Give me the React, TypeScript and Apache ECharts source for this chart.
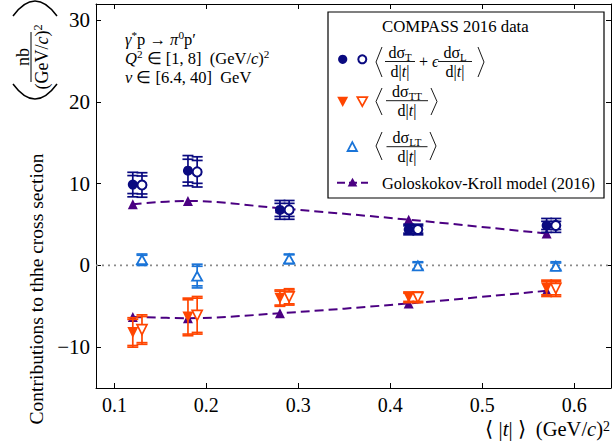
import React, { useEffect, useRef } from "react";
import * as echarts from "echarts";

const tBins = [0.12, 0.18, 0.28, 0.42, 0.57];
const tBinsShifted = [0.13, 0.19, 0.29, 0.43, 0.58];
const sigTL = [9.9, 11.6, 6.8, 4.4, 4.9];
const sigTLOpen = [9.85, 11.45, 6.8, 4.4, 4.9];
const sigTLStat = [1.1, 1.4, 0.8, 0.45, 0.5];
const sigTLTot = [1.5, 1.85, 1.15, 0.65, 0.85];
const sigTT = [-8.2, -6.3, -4.0, -3.9, -2.8];
const sigTTOpen = [-7.85, -6.1, -3.85, -3.9, -2.8];
const sigTTStat = [1.6, 2.1, 0.85, 0.5, 0.8];
const sigTTTot = [1.8, 2.3, 1.0, 0.65, 1.0];
const sigLT = [0.7, -1.3, 0.8, -0.05, -0.1];
const sigLTStat = [0.55, 1.2, 0.5, 0.4, 0.4];
const sigLTTot = [0.7, 1.45, 0.6, 0.5, 0.55];
const gkTL = [7.5, 7.9, 7.0, 5.6, 3.9];
const gkTT = [-6.3, -6.45, -5.85, -4.65, -3.1];
const xTicks = [0.1, 0.2, 0.3, 0.4, 0.5, 0.6];
const yTicks = [-10, 0, 10, 20, 30];
const xRange = [0.08, 0.64];
const yRange = [-15, 32];

const NAVY = "#0a0a80";
const ORANGE = "#ff4500";
const LTBLUE = "#1a74d8";
const INDIGO = "#4b0082";
const FONT = "Liberation Serif";

function errSeries(xs: number[], ys: number[], stat: number[], tot: number[], color: string) {
  return {
    type: "custom",
    z: 3,
    silent: true,
    data: xs.map((x, i) => [x, ys[i], stat[i], tot[i]]),
    renderItem: (params: any, api: any) => {
      const x = api.value(0), y = api.value(1), s = api.value(2), t = api.value(3);
      const p = api.coord([x, y]);
      const s1 = api.coord([x, y + s]), s2 = api.coord([x, y - s]);
      const t1 = api.coord([x, y + t]), t2 = api.coord([x, y - t]);
      const hw = 5.5;
      const style = { stroke: color, lineWidth: 1.7, fill: "none" };
      const cap = (yy: number) => ({ type: "line", shape: { x1: p[0] - hw, y1: yy, x2: p[0] + hw, y2: yy }, style });
      return {
        type: "group",
        children: [
          { type: "line", shape: { x1: p[0], y1: t1[1], x2: p[0], y2: t2[1] }, style },
          cap(s1[1]), cap(s2[1]), cap(t1[1]), cap(t2[1]),
        ],
      };
    },
  };
}

const richBase = (fs: number) => ({
  m: { fontFamily: FONT, fontSize: fs, lineHeight: 20, fill: "#000", color: "#000" },
  i: { fontFamily: FONT, fontSize: fs, fontStyle: "italic", lineHeight: 20, fill: "#000", color: "#000" },
  sup: { fontFamily: FONT, fontSize: fs * 0.68, verticalAlign: "top", lineHeight: 10, fill: "#000", color: "#000" },
  sub: { fontFamily: FONT, fontSize: fs * 0.68, verticalAlign: "bottom", lineHeight: 10, fill: "#000", color: "#000" },
});

function txt(x: number, y: number, text: string, fs: number, align = "left", rotation = 0) {
  return {
    type: "text",
    x, y, rotation, z: 60,
    style: {
      text, fontFamily: FONT, fontSize: fs, fill: "#000", lineHeight: 20,
      align, textAlign: align, verticalAlign: "middle", textVerticalAlign: "middle",
      rich: richBase(fs),
    },
  };
}

function hline(x1: number, x2: number, y: number, w = 0.9) {
  return { type: "line", z: 60, shape: { x1, y1: y, x2, y2: y }, style: { stroke: "#000", lineWidth: w } };
}

function bracket(x: number, y1: number, y2: number, open: boolean) {
  const d = open ? 6 : -6;
  return {
    type: "polyline", z: 60,
    shape: { points: [[x + d, y1], [x, (y1 + y2) / 2], [x + d, y2]] },
    style: { stroke: "#000", lineWidth: 0.9, fill: "none" },
  };
}

function frac(cx: number, yLine: number, num: string, den: string, w: number, fs = 16) {
  return [
    txt(cx, yLine - 9.5, num, fs, "center"),
    hline(cx - w / 2, cx + w / 2, yLine),
    txt(cx, yLine + 9.5, den, fs, "center"),
  ];
}

function App() {
  const ref = useRef<HTMLDivElement>(null);
  useEffect(() => {
    document.body.style.margin = "0";
    const chart = echarts.init(ref.current!, null, { renderer: "svg" });
    const axisCommon = {
      type: "value",
      splitLine: { show: false },
      axisLine: { show: true, onZero: false, lineStyle: { color: "#000", width: 1 } },
    };
    const graphics: any[] = [
      // annotations
      txt(125, 39, "{i|γ}{sup|*}{m|p → }{i|π}{sup|0}{m|p′}", 16.5),
      txt(125, 58, "{i|Q}{sup|2}{m| ∈ [1, 8]  (GeV/}{i|c}{m|)}{sup|2}", 16.5),
      txt(125, 77, "{i|ν}{m| ∈ [6.4, 40]  GeV}", 16.5),
      // y axis title
      txt(36.5, 289, "Contributions to thhe cross section", 19.5, "center", Math.PI / 2),
      txt(23, 57, "nb", 18, "center", Math.PI / 2),
      { type: "line", z: 60, shape: { x1: 31, y1: 32, x2: 31, y2: 82 }, style: { stroke: "#000", lineWidth: 1 } },
      txt(42, 57, "{m|(GeV/}{i|c}{m|)}{sup|2}", 18, "center", Math.PI / 2),
      { type: "bezierCurve", z: 60, shape: { x1: 13, y1: 84, x2: 57, y2: 84, cpx1: 35, cpy1: 114 }, style: { stroke: "#000", lineWidth: 1.5, fill: "none" } },
      { type: "bezierCurve", z: 60, shape: { x1: 13, y1: 16, x2: 57, y2: 16, cpx1: 35, cpy1: -14 }, style: { stroke: "#000", lineWidth: 1.5, fill: "none" } },
      // x axis title
      txt(610, 429, "{m|⟨ |}{i|t}{m|| ⟩  (GeV/}{i|c}{m|)}{sup|2}", 20.5, "right"),
      // legend box
      { type: "rect", z: 55, shape: { x: 328, y: 12, width: 276, height: 186 }, style: { fill: "#fff", stroke: "#000", lineWidth: 1.2 } },
      txt(382, 26, "COMPASS 2016 data", 16.8),
      // row 1
      { type: "circle", z: 60, shape: { cx: 342.7, cy: 59.3, r: 4.6 }, style: { fill: NAVY } },
      { type: "circle", z: 60, shape: { cx: 362.3, cy: 59.3, r: 4 }, style: { fill: "#fff", stroke: NAVY, lineWidth: 2 } },
      bracket(376, 47, 77, true),
      ...frac(400, 61.5, "{m|dσ}{sub|T}", "{m|d|}{i|t}{m||}", 30),
      txt(419, 61.5, "{m|+ }{i|ϵ}", 16),
      ...frac(455, 61.5, "{m|dσ}{sub|L}", "{m|d|}{i|t}{m||}", 34),
      bracket(484, 47, 77, false),
      // row 2
      { type: "polygon", z: 60, shape: { points: [[337.2, 96.7], [348.2, 96.7], [342.7, 107]] }, style: { fill: ORANGE } },
      { type: "polygon", z: 60, shape: { points: [[357.3, 97.2], [367.3, 97.2], [362.3, 106.2]] }, style: { fill: "#fff", stroke: ORANGE, lineWidth: 1.7 } },
      bracket(376, 88, 115, true),
      ...frac(407, 100.7, "{m|dσ}{sub|TT}", "{m|d|}{i|t}{m||}", 42),
      bracket(437, 88, 115, false),
      // row 3
      { type: "polygon", z: 60, shape: { points: [[352.3, 142.2], [357, 151], [347.6, 151]] }, style: { fill: "#fff", stroke: LTBLUE, lineWidth: 1.8 } },
      bracket(376, 132, 160, true),
      ...frac(407, 146.7, "{m|dσ}{sub|LT}", "{m|d|}{i|t}{m||}", 41),
      bracket(436, 132, 160, false),
      // row 4
      { type: "line", z: 60, shape: { x1: 337, y1: 182.7, x2: 368, y2: 182.7 }, style: { stroke: INDIGO, lineWidth: 2, lineDash: [8, 4] } },
      { type: "polygon", z: 61, shape: { points: [[352.5, 177.7], [357.3, 186.5], [347.7, 186.5]] }, style: { fill: INDIGO } },
      txt(382, 183, "Goloskokov-Kroll model (2016)", 16.4),
    ];

    chart.setOption({
      animation: false,
      backgroundColor: "#fff",
      grid: { left: 96, right: 2, top: 4, bottom: 55, containLabel: false, outerBoundsMode: "none" },
      xAxis: [
        {
          ...axisCommon, position: "bottom", min: xRange[0], max: xRange[1],
          axisTick: { show: true, inside: true, length: 5, customValues: xTicks, lineStyle: { color: "#000" } },
          axisLabel: { show: true, customValues: xTicks, formatter: (v: number) => v.toFixed(1), fontFamily: FONT, fontSize: 20, color: "#000", margin: 7 },
        },
        {
          ...axisCommon, position: "top", min: xRange[0], max: xRange[1],
          axisTick: { show: true, inside: true, length: 5, customValues: xTicks, lineStyle: { color: "#000" } },
          axisLabel: { show: false },
        },
      ],
      yAxis: [
        {
          ...axisCommon, position: "left", min: yRange[0], max: yRange[1],
          axisTick: { show: true, inside: true, length: 5, customValues: yTicks, lineStyle: { color: "#000" } },
          axisLabel: { show: true, customValues: yTicks, formatter: (v: number) => (v < 0 ? "−" + Math.abs(v) : String(v)), fontFamily: FONT, fontSize: 21, color: "#000", margin: 6 },
        },
        {
          ...axisCommon, position: "right", min: yRange[0], max: yRange[1],
          axisTick: { show: true, inside: true, length: 5, customValues: yTicks, lineStyle: { color: "#000" } },
          axisLabel: { show: false },
        },
      ],
      graphic: { elements: graphics },
      series: [
        {
          type: "line", z: 1, silent: true, symbol: "none",
          data: [[xRange[0], 0], [xRange[1], 0]],
          lineStyle: { color: "#8a8a8a", width: 1.8, type: [2, 4] },
        },
        {
          type: "line", z: 2, smooth: 0.35, symbol: "triangle", symbolSize: 10, showAllSymbol: true,
          data: tBins.map((x, i) => [x, gkTL[i]]),
          itemStyle: { color: INDIGO },
          lineStyle: { color: INDIGO, width: 2, type: [9, 5] },
        },
        {
          type: "line", z: 2, smooth: 0.35, symbol: "triangle", symbolSize: 10, showAllSymbol: true,
          data: tBins.map((x, i) => [x, gkTT[i]]),
          itemStyle: { color: INDIGO },
          lineStyle: { color: INDIGO, width: 2, type: [9, 5] },
        },
        errSeries(tBins, sigTL, sigTLStat, sigTLTot, NAVY),
        errSeries(tBinsShifted, sigTLOpen, sigTLStat, sigTLTot, NAVY),
        errSeries(tBins, sigTT, sigTTStat, sigTTTot, ORANGE),
        errSeries(tBinsShifted, sigTTOpen, sigTTStat, sigTTTot, ORANGE),
        errSeries(tBinsShifted, sigLT, sigLTStat, sigLTTot, LTBLUE),
        {
          type: "scatter", z: 4, symbol: "circle", symbolSize: 10,
          data: tBins.map((x, i) => [x, sigTL[i]]),
          itemStyle: { color: NAVY, opacity: 1 },
        },
        {
          type: "scatter", z: 4, symbol: "circle", symbolSize: 9,
          data: tBinsShifted.map((x, i) => [x, sigTLOpen[i]]),
          itemStyle: { color: "#fff", borderColor: NAVY, borderWidth: 2, opacity: 1 },
        },
        {
          type: "scatter", z: 4, symbol: "triangle", symbolRotate: 180, symbolSize: 11,
          data: tBins.map((x, i) => [x, sigTT[i]]),
          itemStyle: { color: ORANGE, opacity: 1 },
        },
        {
          type: "scatter", z: 4, symbol: "triangle", symbolRotate: 180, symbolSize: 10,
          data: tBinsShifted.map((x, i) => [x, sigTTOpen[i]]),
          itemStyle: { color: "#fff", borderColor: ORANGE, borderWidth: 1.7, opacity: 1 },
        },
        {
          type: "scatter", z: 4, symbol: "triangle", symbolSize: [10, 9],
          data: tBinsShifted.map((x, i) => [x, sigLT[i]]),
          itemStyle: { color: "#fff", borderColor: LTBLUE, borderWidth: 1.8, opacity: 1 },
        },
      ],
    });
    return () => chart.dispose();
  }, []);
  return <div ref={ref} style={{ width: 613, height: 443 }} />;
}

export default App;
